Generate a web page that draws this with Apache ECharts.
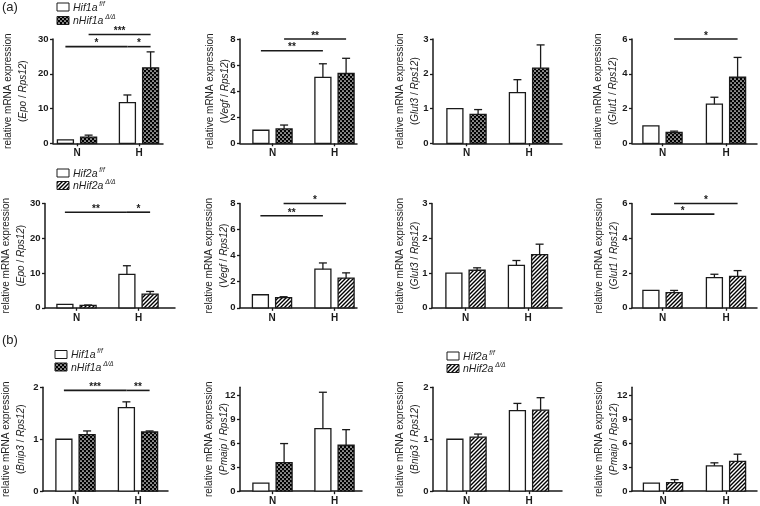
<!DOCTYPE html>
<html><head><meta charset="utf-8">
<script src="https://cdn.jsdelivr.net/npm/echarts@6/dist/echarts.min.js"></script>
<style>html,body{margin:0;padding:0;background:#fff}#c{width:760px;height:506px}</style>
</head><body><div id="c"></div>
<script>
// ---------- DATA ----------
const categories = ['N', 'H'];
const genes = ['Epo','Vegf','Glut3','Glut1','Epo','Vegf','Glut3','Glut1','Bnip3','Pmaip','Bnip3','Pmaip'];
const refGene = 'Rps12';
const wtMean  = [[1,11.7],[1,5.05],[1,1.46],[1,2.25],[1,9.6],[1,2.96],[1,1.22],[1,1.74],[1,1.61],[1,7.83],[1,1.55],[1,3.18]];
const wtErr   = [[0,2.2],[0,1.05],[0,0.37],[0,0.40],[0,2.5],[0,0.48],[0,0.14],[0,0.19],[0,0.11],[0,4.55],[0,0.14],[0,0.37]];
const mutMean = [[1.8,21.7],[1.1,5.37],[0.83,2.16],[0.62,3.8],[0.7,3.95],[0.78,2.28],[1.08,1.53],[0.87,1.81],[1.09,1.14],[3.58,5.75],[1.04,1.56],[1.07,3.72]];
const mutErr  = [[0.55,4.6],[0.3,1.15],[0.14,0.67],[0.08,1.14],[0.1,0.75],[0.07,0.4],[0.07,0.3],[0.13,0.33],[0.07,0.02],[2.38,1.95],[0.06,0.24],[0.38,0.91]];
const mutType = ['check','check','check','check','hatch','hatch','hatch','hatch','check','check','hatch','hatch'];
const yMax      = [30,8,3,6,30,8,3,6,2,13,2,13];
const yTicks    = [[0,10,20,30],[0,2,4,6,8],[0,1,2,3],[0,2,4,6],[0,10,20,30],[0,2,4,6,8],[0,1,2,3],[0,2,4,6],[0,1,2],[0,3,6,9,12],[0,1,2],[0,3,6,9,12]];
// significance: [barA, barB, y, label]  bars: 0=N wt,1=N mut,2=H wt,3=H mut
const sigBars = [
  [[0,2,27.8,'*'],[2,3,27.8,'*'],[1,3,31.3,'***']],
  [[0,2,7.1,'**'],[1,3,8.0,'**']],
  [],
  [[1,3,6.0,'*']],
  [[0,2,27.5,'**'],[2,3,27.5,'*']],
  [[0,2,7.06,'**'],[1,3,8.0,'*']],
  [],
  [[0,2,5.39,'*'],[1,3,6.0,'*']],
  [[0,2,1.94,'***'],[2,3,1.94,'**']],
  [],
  [],
  []
];
const legendSets = [
  {wt:'Hif1a', mut:'nHif1a', type:'check'},
  {wt:'Hif2a', mut:'nHif2a', type:'hatch'},
  {wt:'Hif1a', mut:'nHif1a', type:'check'},
  {wt:'Hif2a', mut:'nHif2a', type:'hatch'}
];

// ---------- LAYOUT ----------
const rows = [{top:39,bot:143.3},{top:203.5,bot:307.8},{top:387.3,bot:491.2}];
const panelX = [
  {x0:53,x1:163,cN:77,cH:139,gap:22},
  {x0:240,x1:357,cN:272.5,cH:334.5,gap:7.5},
  {x0:433,x1:562,cN:466.5,cH:529,gap:10},
  {x0:632,x1:757,cN:662.5,cH:726,gap:11},
  {x0:45,x1:175,cN:76.5,cH:138.5,gap:16},
  {x0:240,x1:357,cN:272,cH:334.5,gap:8.5},
  {x0:432,x1:562,cN:465.5,cH:528,gap:9},
  {x0:632,x1:757,cN:662.5,cH:726,gap:10.5},
  {x0:43,x1:168,cN:75.5,cH:138,gap:14},
  {x0:240,x1:362,cN:272.5,cH:334.5,gap:8.5},
  {x0:433,x1:562,cN:466.5,cH:529,gap:10},
  {x0:632,x1:757,cN:663,cH:726,gap:10.5}
];
const legendPos = [{x:57,y1:7,y2:20.5},{x:57,y1:173,y2:185.5},{x:55,y1:354.5,y2:367},{x:447,y1:356,y2:368.5}];
const BAR_W = 16, BAR_OFF = 11.6;
const FONT = '"Liberation Sans", Arial, sans-serif';
const INK = '#1a1a1a';

// ---------- PATTERNS ----------
function makeChecker(){
  const c = document.createElement('canvas'); c.width = 4; c.height = 4;
  const g = c.getContext('2d');
  g.fillStyle = '#000'; g.fillRect(0,0,4,4);
  g.fillStyle = '#fff';
  g.beginPath(); g.arc(1,1,0.85,0,Math.PI*2); g.fill();
  g.beginPath(); g.arc(3,3,0.85,0,Math.PI*2); g.fill();
  return c;
}
function makeHatch(){
  const s = 4;
  const c = document.createElement('canvas'); c.width = s; c.height = s;
  const g = c.getContext('2d');
  g.fillStyle = '#fff'; g.fillRect(0,0,s,s);
  g.strokeStyle = '#000'; g.lineWidth = 1.4;
  g.beginPath();
  g.moveTo(0,s); g.lineTo(s,0);
  g.moveTo(-1,1); g.lineTo(1,-1);
  g.moveTo(s-1,s+1); g.lineTo(s+1,s-1);
  g.stroke();
  return c;
}
const fills = {
  white: '#ffffff',
  check: {image: makeChecker(), repeat: 'repeat'},
  hatch: {image: makeHatch(), repeat: 'repeat'}
};

// ---------- BUILD ----------
const grids = [], xAxes = [], yAxes = [], series = [];
genes.forEach((gene, i) => {
  const row = rows[Math.floor(i/4)];
  const p = panelX[i];
  const s = p.cH - p.cN;
  const xmin = -(p.cN - p.x0) / s;
  const xmax = 1 + (p.x1 - p.cH) / s;
  grids.push({left:p.x0, top:row.top, width:p.x1-p.x0, height:row.bot-row.top, containLabel:false, outerBoundsMode:'none'});
  xAxes.push({
    type:'value', gridIndex:i, min:xmin, max:xmax,
    axisLine:{onZero:false, lineStyle:{color:INK, width:1.5}},
    axisTick:{show:true, length:3, customValues:[0,1], lineStyle:{color:INK, width:1.3}},
    axisLabel:{customValues:[0,1], formatter:(v)=>categories[Math.round(v)], color:INK, fontFamily:FONT, fontWeight:'bold', fontSize:10, margin:5},
    splitLine:{show:false}
  });
  yAxes.push({
    type:'value', gridIndex:i, min:0, max:yMax[i],
    axisLine:{show:true, onZero:false, lineStyle:{color:INK, width:1.5}},
    axisTick:{show:true, length:3, customValues:yTicks[i], lineStyle:{color:INK, width:1.3}},
    axisLabel:{customValues:yTicks[i], color:INK, fontFamily:FONT, fontWeight:'bold', fontSize:9.5, margin:4.5},
    splitLine:{show:false},
    name:'relative mRNA expression\n({i|' + gene + '} / {i|' + refGene + '})',
    nameLocation:'middle', nameGap:p.gap, nameRotate:90, nameMoveOverlap:false,
    nameTextStyle:{color:'#222', fontFamily:FONT, fontSize:10, lineHeight:15,
      rich:{i:{fontStyle:'italic', fontFamily:FONT, fontSize:10, lineHeight:15, color:'#222'}}}
  });
  const pairs = [
    {mean:wtMean[i], err:wtErr[i], fill:fills.white, off:-BAR_OFF},
    {mean:mutMean[i], err:mutErr[i], fill:fills[mutType[i]], off:BAR_OFF}
  ];
  pairs.forEach(pp => {
    series.push({
      type:'custom', coordinateSystem:'cartesian2d', xAxisIndex:i, yAxisIndex:i, silent:true, clip:false,
      data: pp.mean.map((v,k)=>[k, v]),
      encode:{x:0, y:1},
      renderItem:(params, api) => {
        const x = api.value(0), y = api.value(1);
        const b = api.coord([x, 0]), t = api.coord([x, y]);
        const cx = b[0] + pp.off;
        return {type:'rect', shape:{x:cx-BAR_W/2, y:t[1], width:BAR_W, height:b[1]-t[1]},
          style:{fill:pp.fill, stroke:INK, lineWidth:1.3}};
      }
    });
    series.push({
      type:'custom', coordinateSystem:'cartesian2d', xAxisIndex:i, yAxisIndex:i, silent:true, clip:false, z:3,
      data: pp.mean.map((v,k)=>[k, v, pp.err[k]]),
      encode:{x:0, y:1},
      renderItem:(params, api) => {
        const x = api.value(0), m = api.value(1), e = api.value(2);
        if (!(e > 0)) return null;
        const t = api.coord([x, m]), h = api.coord([x, m + e]);
        const cx = t[0] + pp.off;
        return {type:'group', children:[
          {type:'line', shape:{x1:cx, y1:t[1], x2:cx, y2:h[1]}, style:{stroke:INK, lineWidth:1.3}},
          {type:'line', shape:{x1:cx-4, y1:h[1], x2:cx+4, y2:h[1]}, style:{stroke:INK, lineWidth:1.3}}
        ]};
      }
    });
  });
  const sig = sigBars[i];
  if (sig.length) {
    series.push({
      type:'custom', coordinateSystem:'cartesian2d', xAxisIndex:i, yAxisIndex:i, silent:true, clip:false, z:4,
      data: sig.map(d => [Math.floor(d[0]/2), Math.floor(d[1]/2), d[2]]),
      encode:{x:[0,1], y:2},
      renderItem:(params, api) => {
        const d = sig[params.dataIndex];
        const xa = api.coord([Math.floor(d[0]/2), d[2]]);
        const xb = api.coord([Math.floor(d[1]/2), d[2]]);
        const ax = xa[0] + (d[0]%2 ? BAR_OFF : -BAR_OFF);
        const bx = xb[0] + (d[1]%2 ? BAR_OFF : -BAR_OFF);
        const y = xa[1];
        return {type:'group', children:[
          {type:'line', shape:{x1:ax, y1:y, x2:bx, y2:y}, style:{stroke:INK, lineWidth:1.6}},
          {type:'text', style:{text:d[3], x:(ax+bx)/2, y:y+2, align:'center', verticalAlign:'bottom',
            fill:INK, font:'bold 10px ' + FONT}}
        ]};
      }
    });
  }
});

// legends and panel letters
const graphics = [
  {type:'text', left:2, top:1, style:{text:'(a)', fill:'#222', font:'13px ' + FONT}},
  {type:'text', left:2, top:334, style:{text:'(b)', fill:'#222', font:'13px ' + FONT}}
];
legendSets.forEach((L, k) => {
  const pos = legendPos[k];
  const rich = {
    i:{fontStyle:'italic', fontSize:10.5, fontFamily:FONT, fill:'#222', lineHeight:13, verticalAlign:'bottom'},
    s:{fontStyle:'italic', fontSize:6.5, fontFamily:FONT, fill:'#222', lineHeight:13, verticalAlign:'top'}
  };
  [[pos.y1, fills.white, L.wt, ' f/f'], [pos.y2, fills[L.type], L.mut, ' \u0394/\u0394']].forEach(e => {
    graphics.push({type:'rect', shape:{x:pos.x, y:e[0]-4, width:12, height:8}, style:{fill:e[1], stroke:INK, lineWidth:1}});
    graphics.push({type:'text', x:pos.x+16, y:e[0], style:{text:'{i|' + e[2] + '}{s|' + e[3] + '}', rich:rich, verticalAlign:'middle', fill:'#222'}});
  });
});

const chart = echarts.init(document.getElementById('c'), null, {renderer:'canvas'});
chart.setOption({
  animation:false,
  backgroundColor:'#ffffff',
  grid:grids, xAxis:xAxes, yAxis:yAxes, series:series, graphic:graphics
});
</script></body></html>
